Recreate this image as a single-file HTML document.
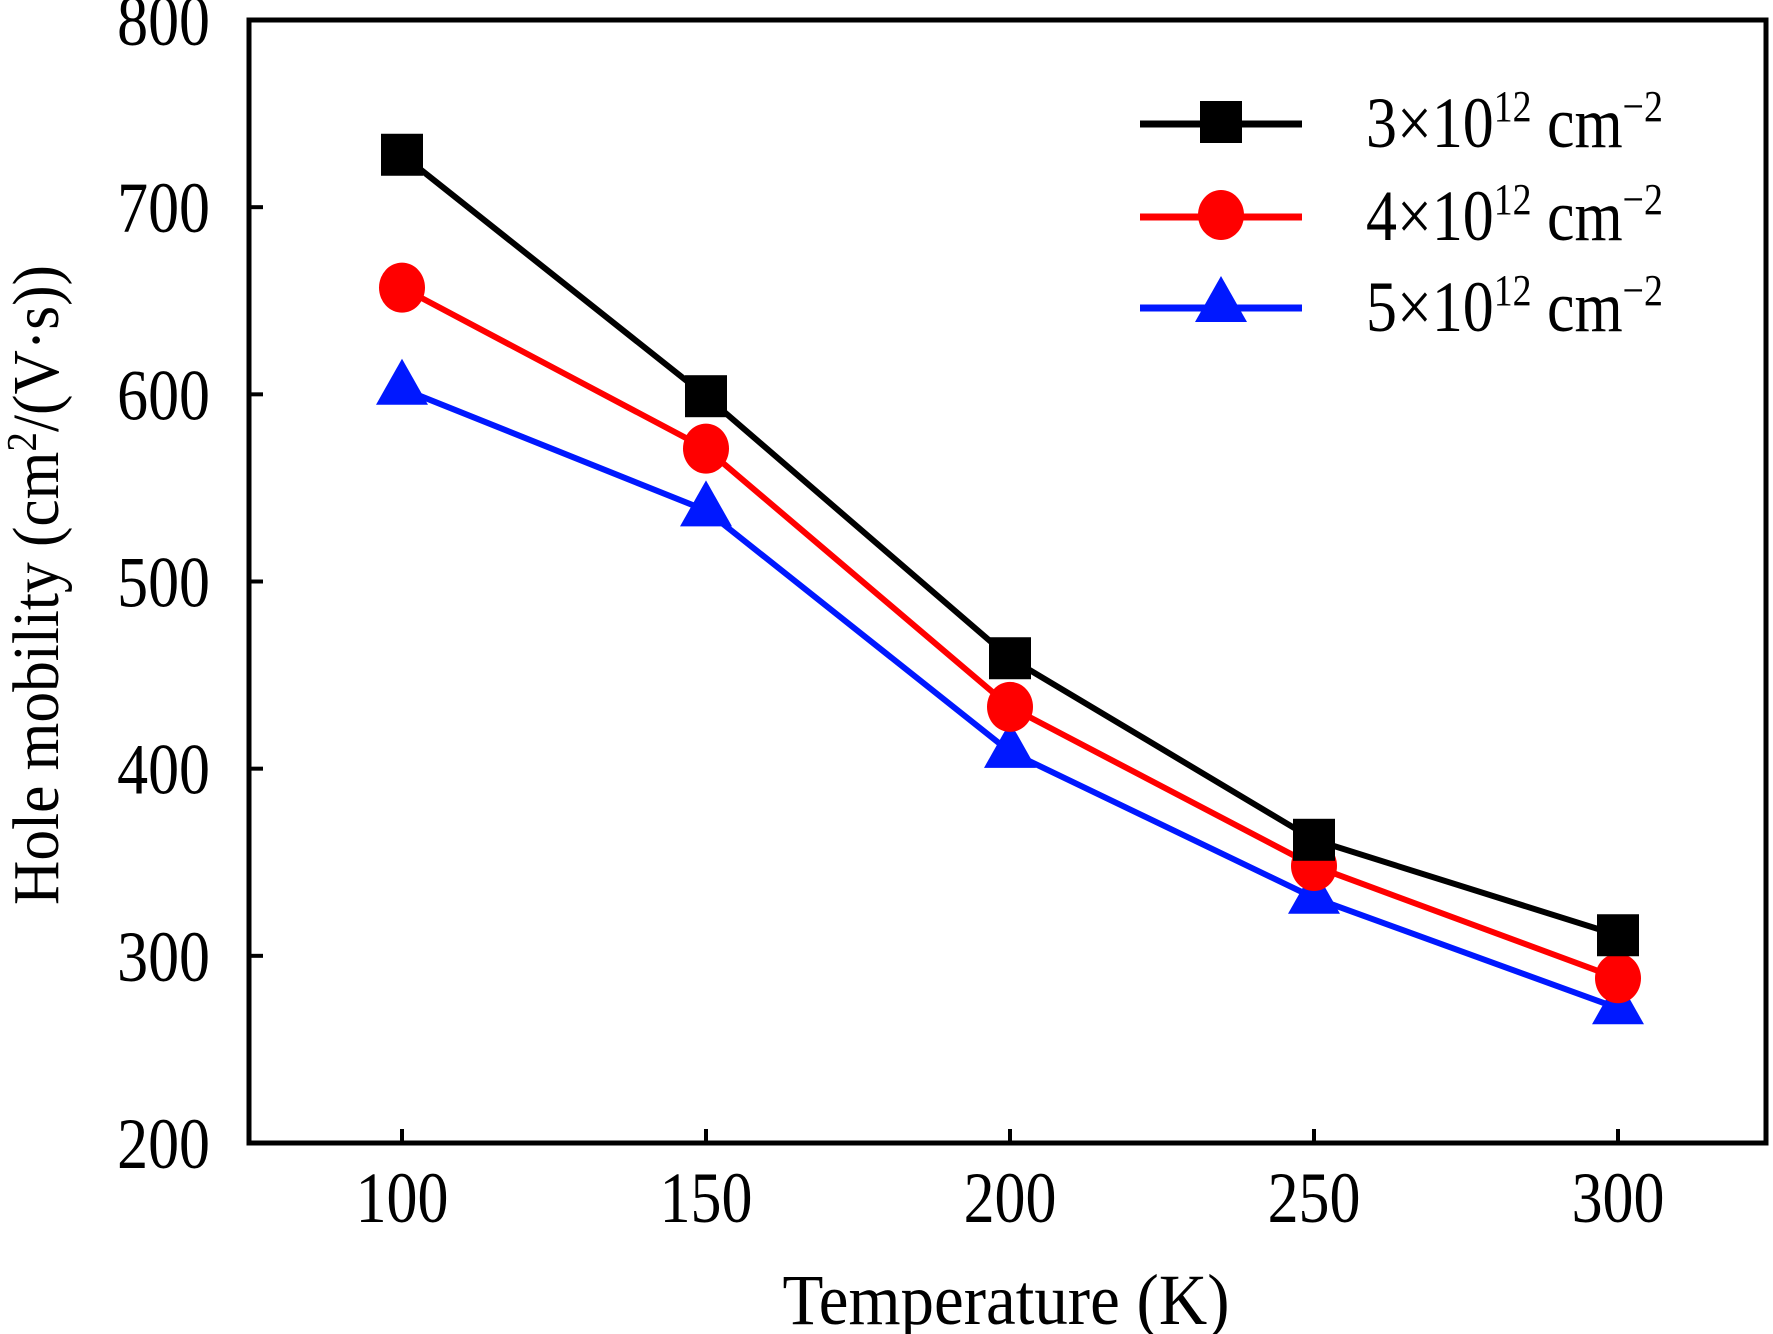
<!DOCTYPE html>
<html><head><meta charset="utf-8"><style>
html,body{margin:0;padding:0;background:#fff;}
svg{display:block;font-family:"Liberation Serif","Times New Roman",serif;}
</style></head><body>
<svg id="chart" width="1773" height="1334" viewBox="0 0 1773 1334"></svg>
<script>
const categories = [100, 150, 200, 250, 300];
const seriesA = [728, 599, 459, 362, 311];
const seriesB = [657, 571, 433, 348, 288];
const seriesC = [603, 538, 409, 331, 272];
const yTicks = [200, 300, 400, 500, 600, 700, 800];
const seriesLabels = ["3×10", "4×10", "5×10"];

const NS = "http://www.w3.org/2000/svg";
const svg = document.getElementById('chart');
const L = 249, R = 1766, T = 20, B = 1143;
const xs = v => 402 + (v - 100) / 50 * 304;
const ys = v => B - (v - 200) / 600 * (B - T);
function el(tag, attrs, parent) {
  const e = document.createElementNS(NS, tag);
  for (const k in attrs) e.setAttribute(k, attrs[k]);
  (parent || svg).appendChild(e);
  return e;
}
const SX = 0.86;
function stext(x, y, size, anchor, parent, extra) {
  return el('text', Object.assign({x: 0, y: 0, 'font-size': size, 'text-anchor': anchor, fill: '#000',
    transform: `translate(${x},${y}) ${extra || ''} scale(${SX},1)`}, {}), parent);
}

const frame = el('rect', {x: L, y: T, width: R - L, height: B - T, fill: 'none', stroke: '#000', 'stroke-width': 5});



yTicks.forEach(v => {
  const y = ys(v);
  if (v > 200 && v < 800) {
    const t = el('line', {x1: L, x2: L + 14, y1: y, y2: y, stroke: '#000', 'stroke-width': 4});
    
    
  }
  const tx = stext(210, y + 25, 72, 'end');
  tx.textContent = v;
  
  
});
categories.forEach(v => {
  const x = xs(v);
  const t = el('line', {x1: x, x2: x, y1: B, y2: B - 14, stroke: '#000', 'stroke-width': 4});
  
  
  const tx = stext(x, 1222, 72, 'middle');
  tx.textContent = v;
  
  
});

const xt = stext(1006, 1324, 72, 'middle');
xt.setAttribute('transform', 'translate(1006,1324) scale(0.93,1)');
xt.textContent = 'Temperature (K)';


const yt = el('text', {x: 0, y: 0, 'font-size': 66, 'text-anchor': 'middle', fill: '#000', transform: 'translate(58,585) rotate(-90) scale(0.93,1)'});
yt.innerHTML = 'Hole mobility (cm<tspan dy="-22" font-size="42">2</tspan><tspan dy="22">/(V·s))</tspan>';



function marker(kind, x, y, color, g) {
  let m;
  if (kind === 'square') m = el('rect', {x: x - 21, y: y - 21, width: 42, height: 42, fill: color}, g);
  else if (kind === 'circle') m = el('ellipse', {cx: x, cy: y, rx: 23, ry: 25, fill: color}, g);
  else m = el('polygon', {points: `${x},${y - 30} ${x + 26},${y + 16} ${x - 26},${y + 16}`, fill: color}, g);
  return m;
}

const allSeries = [
  {vals: seriesA, color: '#000', kind: 'square', name: 'series-3e12'},
  {vals: seriesB, color: '#ff0000', kind: 'circle', name: 'series-4e12'},
  {vals: seriesC, color: '#0018ff', kind: 'triangle', name: 'series-5e12'}
];
allSeries.slice().reverse().forEach(s => {
  const g = el('g', {});
  
  
  const pts = s.vals.map((v, i) => xs(categories[i]) + ',' + ys(v)).join(' ');
  const pl = el('polyline', {points: pts, fill: 'none', stroke: s.color, 'stroke-width': 6}, g);
  
  
  s.vals.forEach((v, i) => {
    const m = marker(s.kind, xs(categories[i]), ys(v), s.color, g);
    
    
  });
});

const lg = el('g', {});


const rows = [122, 215, 306];
allSeries.forEach((s, i) => {
  const y = rows[i];
  const ln = el('line', {x1: 1140, x2: 1302, y1: y + 2, y2: y + 2, stroke: s.color, 'stroke-width': 7}, lg);
  
  
  const m = marker(s.kind, 1221, y, s.color, lg);
  
  
  const t = stext(1366, y + 25, 72, 'start', lg);
  t.innerHTML = seriesLabels[i] + '<tspan dy="-26" font-size="44">12</tspan><tspan dy="26"> cm</tspan><tspan dy="-26" font-size="44">−2</tspan>';
  
  
});
</script>
</body></html>
